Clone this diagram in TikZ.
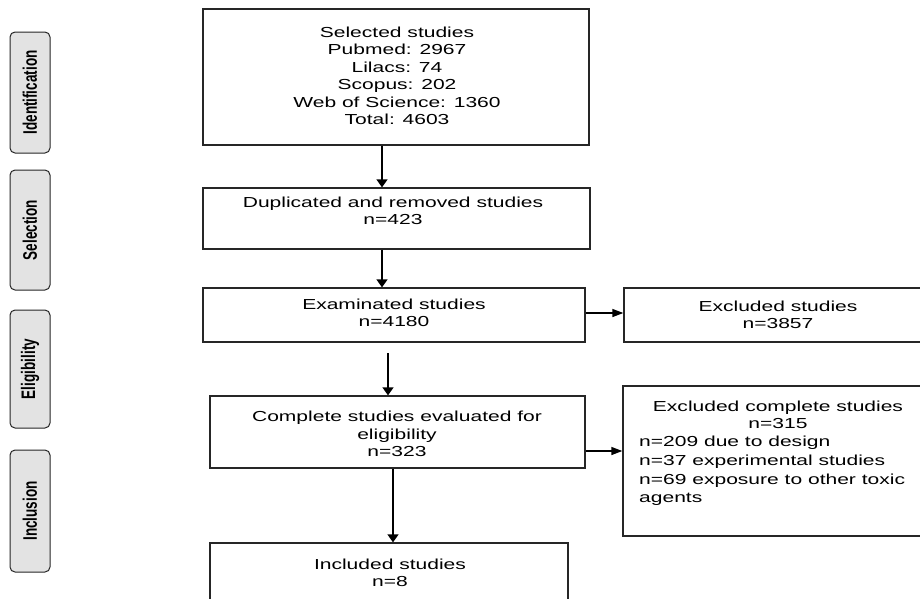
\documentclass[tikz,border=0pt]{standalone}
\usepackage{fontspec}
\setmainfont{Liberation Sans}
\newfontfamily\widefont[FakeStretch=1.45]{Liberation Sans}
\usetikzlibrary{arrows.meta}
\definecolor{boxc}{HTML}{262626}
\definecolor{phasefill}{HTML}{E3E3E3}
\begin{document}
\begin{tikzpicture}[x=1pt,y=-1pt,
  box/.style={draw=boxc, line width=1.3pt, rectangle, inner sep=0pt},
  txt/.style={font=\widefont\fontsize{14.5}{17.5}\selectfont, align=center, inner sep=0pt, text=black},
  ltxt/.style={font=\widefont\fontsize{14.5}{18.7}\selectfont, align=left, inner sep=0pt, text=black},
  phase/.style={draw=boxc, fill=phasefill, line width=1pt, rounded corners=5pt, inner sep=0pt, minimum width=40pt, font=\bfseries\fontsize{13.5}{16}\selectfont},
  varr/.style={draw=black, line width=1.3pt, -{Triangle[length=8pt,width=11pt]}},
  harr/.style={draw=black, line width=1.3pt, -{Triangle[length=11pt,width=8pt]}}]
\useasboundingbox (0,0) rectangle (920,598);

% phase labels
\node[phase, minimum height=121pt] (p1) at (30,92.5) {\scalebox{1.45}[1]{\rotatebox{90}{Identification}}};
\node[phase, minimum height=120pt] (p2) at (30,230) {\scalebox{1.45}[1]{\rotatebox{90}{Selection}}};
\node[phase, minimum height=118pt] (p3) at (30,369) {\scalebox{1.45}[1]{\rotatebox{90}{Eligibility}}};
\node[phase, minimum height=122pt] (p4) at (30,511) {\scalebox{1.45}[1]{\rotatebox{90}{Inclusion}}};

% boxes
\node[box, minimum width=386pt, minimum height=136pt] (b1) at (396,77) {};
\node[box, minimum width=387pt, minimum height=61pt] (b2) at (396.5,218.5) {};
\node[box, minimum width=382pt, minimum height=54pt] (b3) at (394,315) {};
\node[box, minimum width=311pt, minimum height=54pt] (ex1) at (779.5,315) {};
\node[box, minimum width=375pt, minimum height=72pt] (b4) at (397.5,432) {};
\node[box, minimum width=312pt, minimum height=150pt] (ex2) at (779,461) {};
\node[box, minimum width=358pt, minimum height=82pt] (b5) at (389,584) {};

% texts
\node[txt] (t1) at (397,76) {Selected studies\\Pubmed: 2967\\Lilacs: 74\\Scopus: 202\\Web of Science: 1360\\Total: 4603};
\node[txt] (t2) at (393,211) {Duplicated and removed studies\\n=423};
\node[txt] (t3) at (394,313) {Examinated studies\\n=4180};
\node[txt] (te1) at (778,315) {Excluded studies\\n=3857};
\node[txt] (t4) at (397,434) {Complete studies evaluated for\\eligibility\\n=323};
\node[txt] (te2a) at (778,415) {Excluded complete studies\\n=315};
\node[ltxt, anchor=west] (te2b) at (639,471) {n=209 due to design\\n=37 experimental studies\\n=69 exposure to other toxic\\agents};
\node[txt] (t5) at (390,573) {Included studies\\n=8};

% connectors
\coordinate (x12) at (382,0);
\draw[varr] (b1.south -| x12) -- (b2.north -| x12);
\draw[varr] (b2.south -| x12) -- (b3.north -| x12);
\coordinate (s34) at (388,353);
\draw[varr] (s34) -- (b4.north -| s34);
\coordinate (x45) at (393,0);
\draw[varr] (b4.south -| x45) -- (b5.north -| x45);
\coordinate (y3) at (0,313);
\draw[harr] (b3.east |- y3) -- (ex1.west |- y3);
\coordinate (y4) at (0,451);
\draw[harr] (b4.east |- y4) -- (ex2.west |- y4);
\end{tikzpicture}
\end{document}
